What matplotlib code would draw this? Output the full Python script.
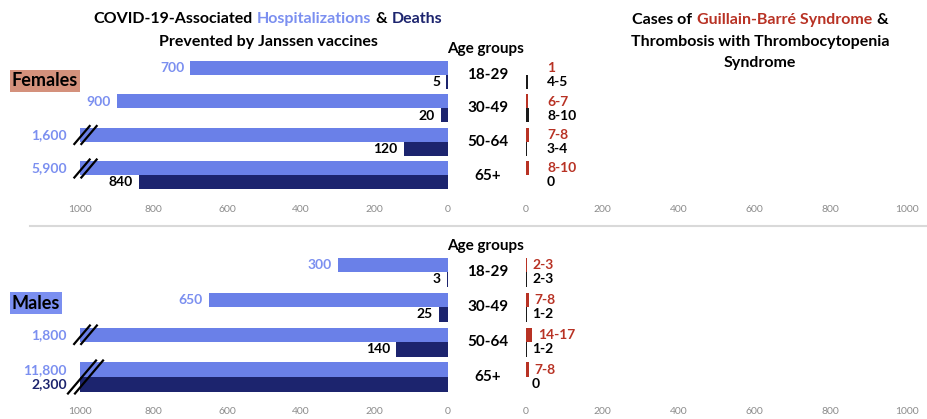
import numpy as np
import matplotlib
matplotlib.use('Agg')
import matplotlib.pyplot as plt
from matplotlib.lines import Line2D
from matplotlib.offsetbox import TextArea, HPacker, AnnotationBbox
from matplotlib.transforms import IdentityTransform, blended_transform_factory

FONT = ['Lato', 'DejaVu Sans']
plt.rcParams['font.family'] = FONT

# ---- data ----
age_groups = ['18-29', '30-49', '50-64', '65+']
hosp_f = [700, 900, 1600, 5900]
death_f = [5, 20, 120, 840]
hosp_m = [300, 650, 1800, 11800]
death_m = [3, 25, 140, 2300]
gbs_f = [1, 6.5, 7.5, 9]
gbs_f_lbl = ['1', '6-7', '7-8', '8-10']
tts_f = [4.5, 9, 3.5, 0]
tts_f_lbl = ['4-5', '8-10', '3-4', '0']
gbs_m = [2.5, 7.5, 15.5, 7.5]
gbs_m_lbl = ['2-3', '7-8', '14-17', '7-8']
tts_m = [2.5, 1.5, 1.5, 0]
tts_m_lbl = ['2-3', '1-2', '1-2', '0']
ticks = [0, 200, 400, 600, 800, 1000]
CAP = 1000

# colours
HOSP = '#6a80e8'
HOSP_TXT = '#7b8ff0'
DEATH = '#1c246e'
GBS = '#b83224'
TTS = '#1a1a1a'
TICK = '#8c8c8c'

TITLE_SIZE = 11.5
VAL_SIZE = 10
AGE_SIZE = 11

W, H = 927, 419
fig = plt.figure(figsize=(W / 100, H / 100), dpi=100)
PT = 0.72  # points per pixel at 100 dpi


def fx(px):
    return px / W


def fy(py):
    return 1 - py / H


def color_line(parts, x, y, size=TITLE_SIZE):
    boxes = [TextArea(t, textprops=dict(color=c, fontsize=size, fontweight='bold', family=FONT))
             for t, c in parts]
    pack = HPacker(children=boxes, align='baseline', pad=0, sep=0.27 * size)
    ab = AnnotationBbox(pack, (fx(x), fy(y)), xycoords='figure fraction',
                        frameon=False, box_alignment=(0.5, 0.5))
    fig.add_artist(ab)


def break_mark(ax, y0, y1):
    t = ax.transData
    xa, ya = t.transform((CAP, y0))
    _, yb = t.transform((CAP, y1))
    half = abs(ya - yb) / 2 + 2
    yc = (ya + yb) / 2
    for dx in (2, 9):
        xc = xa + dx
        fig.add_artist(Line2D([xc - 0.85 * half, xc + 0.85 * half], [yc - half, yc + half],
                              transform=IdentityTransform(), color='black', lw=1.6))


def style_axis(ax):
    for s in ax.spines.values():
        s.set_visible(False)
    ax.set_yticks([])
    ax.set_xticks(ticks)
    ax.tick_params(axis='x', length=0, labelsize=7.5, labelcolor=TICK, pad=9)
    ax.set_ylim(3.5, -0.5)


def panel(top_px, pitch, bar_px, hosp, death, gbs, gbs_lbl, tts, tts_lbl, fixed_lbl):
    axl = fig.add_axes([fx(80), fy(top_px + 4 * pitch), (448 - 80) / W, 4 * pitch / H])
    axr = fig.add_axes([fx(526), fy(top_px + 4 * pitch), (907 - 526) / W, 4 * pitch / H])
    style_axis(axl)
    style_axis(axr)
    axl.set_xlim(CAP, 0)
    axr.set_xlim(0, CAP)
    y = np.arange(len(age_groups))
    h = bar_px / pitch

    axl.barh(y - h / 2, [min(v, CAP) for v in hosp], height=h, color=HOSP)
    axl.barh(y + h / 2, [min(v, CAP) for v in death], height=h, color=DEATH)
    for i in range(len(y)):
        for v, yy, col in ((hosp[i], y[i] - h / 2, HOSP_TXT),
                           (death[i], y[i] + h / 2, DEATH if death[i] > CAP else 'black')):
            off = 13 if v > CAP else 6
            axl.annotate(f'{v:,}', (min(v, CAP), yy), xytext=(-off * PT, 0),
                         textcoords='offset points', ha='right', va='center',
                         fontsize=VAL_SIZE, fontweight='bold', color=col)
        if hosp[i] > CAP:
            lo = y[i] - h
            hi = y[i] + h if death[i] > CAP else y[i]
            break_mark(axl, lo, hi)

    axr.barh(y - h / 2, gbs, height=h, color=GBS)
    axr.barh(y + h / 2, tts, height=h, color=TTS)
    for i in range(len(y)):
        for v, yy, lbl, col in ((gbs[i], y[i] - h / 2, gbs_lbl[i], GBS),
                                (tts[i], y[i] + h / 2, tts_lbl[i], 'black')):
            x0, off = (0, 21) if fixed_lbl else (v, 6)
            axr.annotate(lbl, (x0, yy), xytext=(off * PT, 0), textcoords='offset points',
                         ha='left', va='center', fontsize=VAL_SIZE, fontweight='bold', color=col)

    tr = blended_transform_factory(axl.transAxes, axl.transData)
    for i, g in enumerate(age_groups):
        axl.text((488 - 80) / 368, y[i], g, transform=tr, ha='center', va='center',
                 fontsize=AGE_SIZE, fontweight='bold', color='black', clip_on=False)
    fig.text(fx(486), fy(top_px - 9), 'Age groups', ha='center', va='center',
             fontsize=AGE_SIZE, fontweight='bold', color='black')


panel(58.25, 33.5, 14, hosp_f, death_f, gbs_f, gbs_f_lbl, tts_f, tts_f_lbl, True)
panel(254.5, 35, 14.5, hosp_m, death_m, gbs_m, gbs_m_lbl, tts_m, tts_m_lbl, False)

# titles
color_line([('COVID-19-Associated', 'black'), ('Hospitalizations', HOSP_TXT),
            ('&', 'black'), ('Deaths', DEATH)], 268, 19)
fig.text(fx(268), fy(42), 'Prevented by Janssen vaccines', ha='center', va='center',
         fontsize=TITLE_SIZE, fontweight='bold')
color_line([('Cases of', 'black'), ('Guillain-Barré Syndrome', GBS), ('&', 'black')], 760, 20)
fig.text(fx(760), fy(42), 'Thrombosis with Thrombocytopenia', ha='center', va='center',
         fontsize=TITLE_SIZE, fontweight='bold')
fig.text(fx(760), fy(63), 'Syndrome', ha='center', va='center', fontsize=TITLE_SIZE,
         fontweight='bold')

# sex labels
fig.text(fx(45), fy(81), 'Females', ha='center', va='center', fontsize=13, fontweight='bold',
         bbox=dict(boxstyle='square,pad=0.12', fc='#d4917c', ec='none'))
fig.text(fx(36), fy(303), 'Males', ha='center', va='center', fontsize=13, fontweight='bold',
         bbox=dict(boxstyle='square,pad=0.12', fc='#7b8ff0', ec='none'))

# separator between the panels
fig.add_artist(Line2D([fx(30), 1], [fy(226), fy(226)], transform=fig.transFigure,
                      color='#d9d9d9', lw=1.5))

fig.savefig('out.png', dpi=100)
